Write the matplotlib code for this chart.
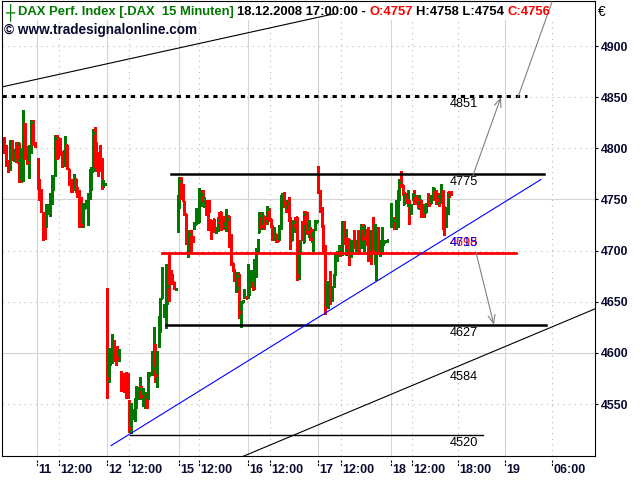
import numpy as np
import matplotlib
matplotlib.use("Agg")
import matplotlib.pyplot as plt
import matplotlib.transforms as mtransforms
from matplotlib.patches import Rectangle

# 15 minute bars (open, high, low, close), one list per trading day
dec10 = [
    (4808, 4811, 4795, 4800), (4800, 4803, 4783, 4786), (4787, 4789, 4777, 4780),
    (4781, 4808, 4779, 4805), (4806, 4808, 4789, 4791), (4790, 4799, 4788, 4797),
    (4797, 4806, 4787, 4789), (4789, 4806, 4786, 4804), (4804, 4805, 4767, 4768),
    (4769, 4800, 4767, 4797), (4797, 4837, 4768, 4832), (4823, 4825, 4790, 4793),
    (4793, 4802, 4785, 4787), (4787, 4803, 4771, 4800), (4800, 4828, 4795, 4826),
    (4826, 4828, 4803, 4806), (4805, 4806, 4801, 4802),
]
dec11 = [
    (4790, 4791, 4760, 4762), (4768, 4770, 4749, 4752), (4758, 4760, 4738, 4740),
    (4737, 4738, 4710, 4715), (4728, 4733, 4711, 4715), (4725, 4746, 4723, 4744),
    (4738, 4746, 4736, 4745), (4737, 4756, 4734, 4754), (4747, 4774, 4746, 4771),
    (4760, 4774, 4759, 4772), (4774, 4813, 4773, 4810), (4810, 4813, 4790, 4793),
    (4808, 4811, 4791, 4800), (4800, 4810, 4793, 4796), (4796, 4797, 4782, 4784),
    (4784, 4798, 4783, 4796), (4792, 4812, 4791, 4808), (4803, 4803, 4780, 4782),
    (4780, 4780, 4764, 4766), (4768, 4770, 4757, 4760), (4766, 4769, 4757, 4760),
    (4760, 4775, 4759, 4772), (4770, 4770, 4757, 4759), (4760, 4762, 4752, 4754),
    (4757, 4759, 4723, 4725), (4750, 4752, 4723, 4725), (4725, 4747, 4723, 4744),
    (4742, 4744, 4741, 4743), (4743, 4749, 4742, 4747), (4727, 4756, 4725, 4750),
    (4752, 4780, 4750, 4777), (4762, 4782, 4759, 4778), (4778, 4819, 4778, 4815),
    (4815, 4821, 4782, 4785), (4800, 4806, 4778, 4780), (4792, 4796, 4773, 4776),
    (4800, 4803, 4778, 4782), (4790, 4791, 4760, 4762), (4762, 4769, 4762, 4767),
    (4765, 4766, 4764, 4765),
]
dec12 = [
    (4661, 4663, 4556, 4575), (4575, 4605, 4572, 4597), (4590, 4597, 4588, 4595),
    (4593, 4618, 4590, 4612), (4612, 4613, 4592, 4595), (4606, 4607, 4588, 4592),
    (4605, 4607, 4592, 4595), (4596, 4604, 4592, 4598), (4581, 4582, 4563, 4566),
    (4578, 4580, 4565, 4567), (4570, 4572, 4562, 4564), (4580, 4581, 4556, 4560),
    (4575, 4580, 4556, 4558), (4553, 4554, 4523, 4527), (4527, 4551, 4522, 4546),
    (4536, 4545, 4535, 4543), (4535, 4556, 4533, 4552), (4550, 4568, 4546, 4563),
    (4560, 4567, 4555, 4565), (4565, 4576, 4555, 4570), (4568, 4568, 4556, 4558),
    (4550, 4566, 4548, 4562), (4548, 4562, 4546, 4558), (4558, 4560, 4546, 4548),
    (4556, 4581, 4555, 4578), (4578, 4581, 4578, 4580), (4580, 4602, 4578, 4598),
    (4585, 4625, 4579, 4620), (4608, 4609, 4572, 4578), (4570, 4602, 4567, 4598),
    (4608, 4636, 4606, 4632), (4620, 4654, 4620, 4650), (4654, 4684, 4654, 4680),
    (4636, 4648, 4635, 4645), (4625, 4687, 4624, 4685), (4650, 4670, 4648, 4665),
    (4697, 4697, 4651, 4656), (4680, 4681, 4674, 4676), (4676, 4677, 4667, 4669),
    (4669, 4669, 4662, 4663), (4662, 4663, 4661, 4662),
]
dec15 = [
    (4722, 4754, 4718, 4750), (4745, 4772, 4742, 4768), (4770, 4772, 4750, 4752),
    (4762, 4765, 4748, 4750), (4748, 4748, 4735, 4738), (4736, 4736, 4706, 4710),
    (4705, 4719, 4694, 4715), (4705, 4720, 4698, 4716), (4718, 4720, 4698, 4700),
    (4712, 4714, 4708, 4709), (4722, 4728, 4721, 4726), (4726, 4742, 4726, 4738),
    (4728, 4741, 4727, 4737), (4730, 4761, 4728, 4758), (4748, 4759, 4744, 4755),
    (4758, 4759, 4748, 4750), (4744, 4752, 4744, 4750), (4748, 4749, 4735, 4737),
    (4748, 4749, 4720, 4722), (4748, 4749, 4738, 4740), (4730, 4730, 4711, 4714),
    (4722, 4723, 4718, 4719), (4731, 4731, 4720, 4722), (4718, 4723, 4717, 4721),
    (4720, 4733, 4719, 4730), (4737, 4738, 4727, 4729), (4738, 4738, 4720, 4723),
    (4733, 4734, 4721, 4725), (4724, 4728, 4722, 4726), (4720, 4741, 4719, 4738),
    (4731, 4734, 4730, 4731), (4734, 4734, 4704, 4706), (4714, 4716, 4686, 4690),
    (4688, 4688, 4680, 4682), (4682, 4682, 4670, 4673), (4662, 4679, 4660, 4676),
    (4663, 4679, 4661, 4675), (4677, 4677, 4634, 4640), (4630, 4651, 4625, 4648),
    (4650, 4652, 4650, 4651), (4655, 4662, 4654, 4660), (4655, 4656, 4654, 4654),
]
dec16 = [
    (4655, 4687, 4654, 4684), (4660, 4679, 4657, 4676), (4665, 4681, 4664, 4678),
    (4668, 4669, 4661, 4663), (4662, 4692, 4662, 4688), (4680, 4703, 4674, 4700),
    (4698, 4711, 4698, 4708), (4718, 4738, 4718, 4735), (4735, 4737, 4721, 4724),
    (4722, 4738, 4721, 4735), (4734, 4734, 4721, 4724), (4732, 4733, 4726, 4727),
    (4727, 4744, 4726, 4741), (4741, 4742, 4729, 4731), (4731, 4731, 4723, 4725),
    (4724, 4725, 4710, 4712), (4711, 4723, 4710, 4720), (4716, 4716, 4708, 4710),
    (4713, 4713, 4708, 4709), (4710, 4725, 4710, 4722), (4722, 4754, 4721, 4750),
    (4748, 4756, 4746, 4754), (4755, 4757, 4743, 4745), (4747, 4749, 4738, 4740),
    (4740, 4749, 4739, 4747), (4750, 4752, 4729, 4731), (4731, 4733, 4702, 4705),
    (4710, 4730, 4710, 4726), (4720, 4730, 4718, 4728), (4732, 4733, 4723, 4725),
    (4733, 4733, 4671, 4675), (4675, 4700, 4672, 4698), (4700, 4710, 4700, 4708),
    (4728, 4728, 4710, 4712), (4708, 4739, 4708, 4736), (4738, 4739, 4726, 4728),
    (4735, 4738, 4716, 4718), (4715, 4730, 4713, 4727), (4722, 4723, 4710, 4712),
    (4720, 4721, 4708, 4711), (4702, 4721, 4700, 4718), (4722, 4730, 4720, 4728),
    (4728, 4730, 4728, 4729),
]
dec17 = [
    (4780, 4783, 4756, 4758), (4757, 4759, 4738, 4740), (4741, 4743, 4723, 4725),
    (4725, 4725, 4700, 4702), (4703, 4705, 4638, 4642), (4648, 4670, 4646, 4667),
    (4648, 4670, 4644, 4665), (4675, 4680, 4648, 4652), (4652, 4665, 4651, 4662),
    (4665, 4677, 4664, 4674), (4676, 4697, 4676, 4694), (4692, 4700, 4690, 4698),
    (4698, 4705, 4698, 4702), (4703, 4704, 4695, 4697), (4697, 4729, 4696, 4725),
    (4728, 4729, 4706, 4709), (4698, 4721, 4696, 4718), (4712, 4712, 4703, 4705),
    (4711, 4711, 4686, 4690), (4695, 4710, 4694, 4706), (4700, 4710, 4697, 4708),
    (4718, 4720, 4703, 4705), (4702, 4710, 4700, 4707), (4719, 4720, 4710, 4711),
    (4715, 4716, 4697, 4699), (4705, 4726, 4703, 4722), (4724, 4726, 4710, 4712),
    (4705, 4725, 4700, 4720), (4719, 4721, 4705, 4707), (4720, 4723, 4690, 4694),
    (4695, 4720, 4693, 4717), (4698, 4700, 4687, 4689), (4728, 4733, 4697, 4700),
    (4692, 4726, 4687, 4720), (4680, 4720, 4671, 4715), (4720, 4723, 4697, 4700),
    (4697, 4710, 4695, 4707), (4700, 4723, 4697, 4718), (4706, 4708, 4705, 4707),
    (4708, 4710, 4708, 4709), (4709, 4710, 4708, 4710),
]
dec18 = [
    (4725, 4747, 4723, 4744), (4724, 4733, 4723, 4730), (4732, 4733, 4721, 4723),
    (4722, 4749, 4721, 4746), (4725, 4759, 4723, 4755), (4752, 4770, 4749, 4767),
    (4776, 4778, 4762, 4764), (4764, 4764, 4754, 4756), (4746, 4757, 4746, 4754),
    (4755, 4756, 4747, 4749), (4745, 4759, 4744, 4756), (4749, 4749, 4726, 4728),
    (4737, 4746, 4736, 4744), (4750, 4756, 4749, 4754), (4757, 4759, 4746, 4748),
    (4753, 4754, 4746, 4748), (4750, 4751, 4742, 4744), (4743, 4754, 4741, 4751),
    (4749, 4749, 4733, 4735), (4744, 4744, 4733, 4735), (4735, 4746, 4733, 4743),
    (4738, 4747, 4738, 4745), (4755, 4756, 4746, 4748), (4752, 4754, 4744, 4746),
    (4747, 4754, 4747, 4752), (4750, 4762, 4749, 4760), (4760, 4761, 4749, 4751),
    (4757, 4759, 4746, 4748), (4747, 4756, 4746, 4753), (4754, 4756, 4744, 4746),
    (4748, 4765, 4747, 4762), (4758, 4759, 4721, 4724), (4740, 4744, 4715, 4718),
    (4724, 4743, 4723, 4740), (4737, 4757, 4736, 4754), (4757, 4757, 4752, 4754),
    (4757, 4758, 4754, 4756),
]
days = [dec10, dec11, dec12, dec15, dec16, dec17, dec18]

# where each session sits on the compressed time axis (one unit ~ one 15 min slot)
day_first = [1.1, 19.75, 58.1, 97.1, 135.9, 174.9, 215.2]
day_last = [18.25, 57.0, 96.2, 135.0, 174.1, 212.8, 248.3]

tick_pos = [19.5, 31.4, 58.1, 70.2, 97.9, 109.0, 136.1, 148.2,
            174.8, 187.5, 215.2, 226.8, 252.2, 278.2, 304.2]
tick_lab = ["11", "12:00", "12", "12:00", "15", "12:00", "16", "12:00",
            "17", "12:00", "18", "12:00", "18:00", "19", "06:00"]
major_lab = ["11", "12", "15", "16", "17", "18", "19"]

# drawn levels and trend lines
resist_851 = 4851
upper_775 = 4775
mid_698 = 4698
lower_627 = 4627
base_520 = 4520
blue_pts = [(71.9, 4522), (179.2, 4639.4)]
low_pts = [(132.2, 4498), (248.3, 4584)]
top_pts = [(0.0, 4860), (176.0, 4928.5)]

GREEN = "#007800"
RED = "#ff0000"
NAVY = "#0a0a30"
arial = ["Liberation Sans", "DejaVu Sans"]

xs, o, h, l, c = [], [], [], [], []
for bars, a, b in zip(days, day_first, day_last):
    xs.extend(np.linspace(a, b, len(bars)))
    for bo, bh, bl, bc in bars:
        o.append(bo); h.append(bh); l.append(bl); c.append(bc)
xs = np.array(xs); o = np.array(o); h = np.array(h); l = np.array(l); c = np.array(c)
cols = np.where(c >= o, GREEN, RED)
last_x = xs[-1]


def line_at(pts, x):
    (x0, y0), (x1, y1) = pts
    return y0 + (y1 - y0) / (x1 - x0) * (np.asarray(x) - x0)


fig = plt.figure(figsize=(6.4, 4.8), dpi=100)
ax = fig.add_axes([2 / 640, 24 / 480, 593 / 640, 455 / 480])
ax.set_xlim(0, 328)
ax.set_ylim(4499.2, 4944)
for s in ax.spines.values():
    s.set_linewidth(0.8)
    s.set_color("black")

# grid
for p, lab in zip(tick_pos, tick_lab):
    if lab in major_lab:
        ax.axvline(p, color="#d4d4d4", lw=0.8, zorder=0.5)
    else:
        ax.axvline(p, color="#b8b8b8", lw=0.8, ls=(0, (1, 4)), zorder=0.5)
yt = np.arange(4550, 4901, 50)
for v in yt:
    if v in (4600, 4750):
        ax.axhline(v, color="#d4d4d4", lw=0.8, zorder=0.5)
    else:
        ax.axhline(v, color="#b8b8b8", lw=0.8, ls=(0, (1, 4)), zorder=0.5)
ax.add_patch(Rectangle((0, 1 - 19 / 455), 1, 19 / 455, transform=ax.transAxes,
                       facecolor="white", edgecolor="none", zorder=1))

# OHLC bars
ax.vlines(xs, l, h, colors=cols, lw=0.8, zorder=3, antialiased=False)
ax.hlines(o, xs - 0.55, xs, colors=cols, lw=0.8, zorder=3, antialiased=False)
ax.hlines(c, xs, xs + 0.55, colors=cols, lw=0.8, zorder=3, antialiased=False)

# levels
ax.plot([0, 290.4], [resist_851] * 2, color="black", lw=2.2, ls=(0, (1.4, 1.6)), zorder=4)
ax.plot([93.5, 299.8], [upper_775] * 2, color="black", lw=1.8, zorder=4)
ax.plot([88.5, 284.3], [mid_698] * 2, color=RED, lw=2.0, zorder=4)
ax.plot([90.7, 300.9], [lower_627] * 2, color="black", lw=1.8, zorder=4)
ax.plot([70.8, 266.0], [base_520] * 2, color="black", lw=1.0, zorder=4)
bx = np.array([60.3, 298.1])
ax.plot(bx, line_at(blue_pts, bx), color="#0000ff", lw=0.8, zorder=4)
lx = np.array([120.0, 335.0])
ax.plot(lx, line_at(low_pts, lx), color="black", lw=0.8, zorder=4)
tx = np.array([0.0, 184.0])
ax.plot(tx, line_at(top_pts, tx), color="black", lw=0.8, zorder=4)

# projection arrows
aprops = dict(arrowstyle="->,head_length=0.6,head_width=0.25", color="#808080",
              lw=0.8, shrinkA=0, shrinkB=0, mutation_scale=10)
ax.annotate("", xy=(276.0, 4850), xytext=(260.5, 4773.5), arrowprops=aprops, zorder=5)
ax.annotate("", xy=(272.1, 4627.5), xytext=(262.2, 4698), arrowprops=aprops, zorder=5)
ax.plot([285.4, 304.2], [4850, 4943], color="#808080", lw=0.8, zorder=5)

# value labels under each line, at the last bar
lab_x = last_x - 0.5
blue_now = line_at(blue_pts, last_x)
low_now = line_at(low_pts, last_x)
labels = [(resist_851, resist_851, "black"), (upper_775, upper_775, "black"),
          (mid_698, blue_now, RED), (round(blue_now), blue_now, "#0000ff"),
          (lower_627, lower_627, "black"), (round(low_now), low_now, "black"),
          (base_520, base_520, "black")]
for val, ypos, col in labels:
    ax.text(lab_x, ypos - 7.8, f"{val:.0f}", color=col, fontsize=9.2,
            family=arial, ha="left", va="center", zorder=6)

# axes ticks
ax.set_xticks([])
ax.yaxis.tick_right()
ax.set_yticks(yt)
ax.tick_params(axis="y", length=2.5, width=0.8, pad=1.5, labelsize=8.8)
for t in ax.get_yticklabels():
    t.set_fontfamily(arial)
    t.set_fontweight("bold")
    t.set_color(NAVY)
trans = mtransforms.blended_transform_factory(ax.transData, ax.transAxes)
for p, lab in zip(tick_pos, tick_lab):
    ax.plot([p, p], [-4 / 455, -10 / 455], transform=trans, color="black",
            lw=0.8, ls=(0, (2, 1)), clip_on=False)
    ax.text(p + 0.8, -14 / 455, lab, transform=trans, ha="left", va="center",
            fontsize=9.0, fontweight="bold", family=arial, color=NAVY)
fig.text(598 / 640, 1 - 12 / 480, "€", fontsize=10, family=arial, va="center")

# header
renderer = fig.canvas.get_renderer()
fig.text(5 / 640, 1 - 12 / 480, "┼", color=GREEN, fontsize=11, family="DejaVu Sans",
         va="center", zorder=7)
pieces = [("DAX Perf. Index [.DAX  15 Minuten]", GREEN),
          ("18.12.2008 17:00:00 -", "black"),
          (f"O:{o[-1]}", RED),
          (f"H:{h[-1]} L:{l[-1]}", "black"),
          (f"C:{c[-1]}", RED)]
x = 18
for s, col in pieces:
    t = fig.text(x / 640, 1 - 12 / 480, s, color=col, fontsize=9.4, fontweight="bold",
                 family=arial, va="center", ha="left", zorder=7)
    x = t.get_window_extent(renderer).x1 + 3.5
fig.text(4 / 640, 1 - 30 / 480, "© www.tradesignalonline.com", color=NAVY, fontsize=9.8,
         fontweight="bold", family=arial, va="center", ha="left", zorder=7)

fig.savefig("out.png", dpi=100)
